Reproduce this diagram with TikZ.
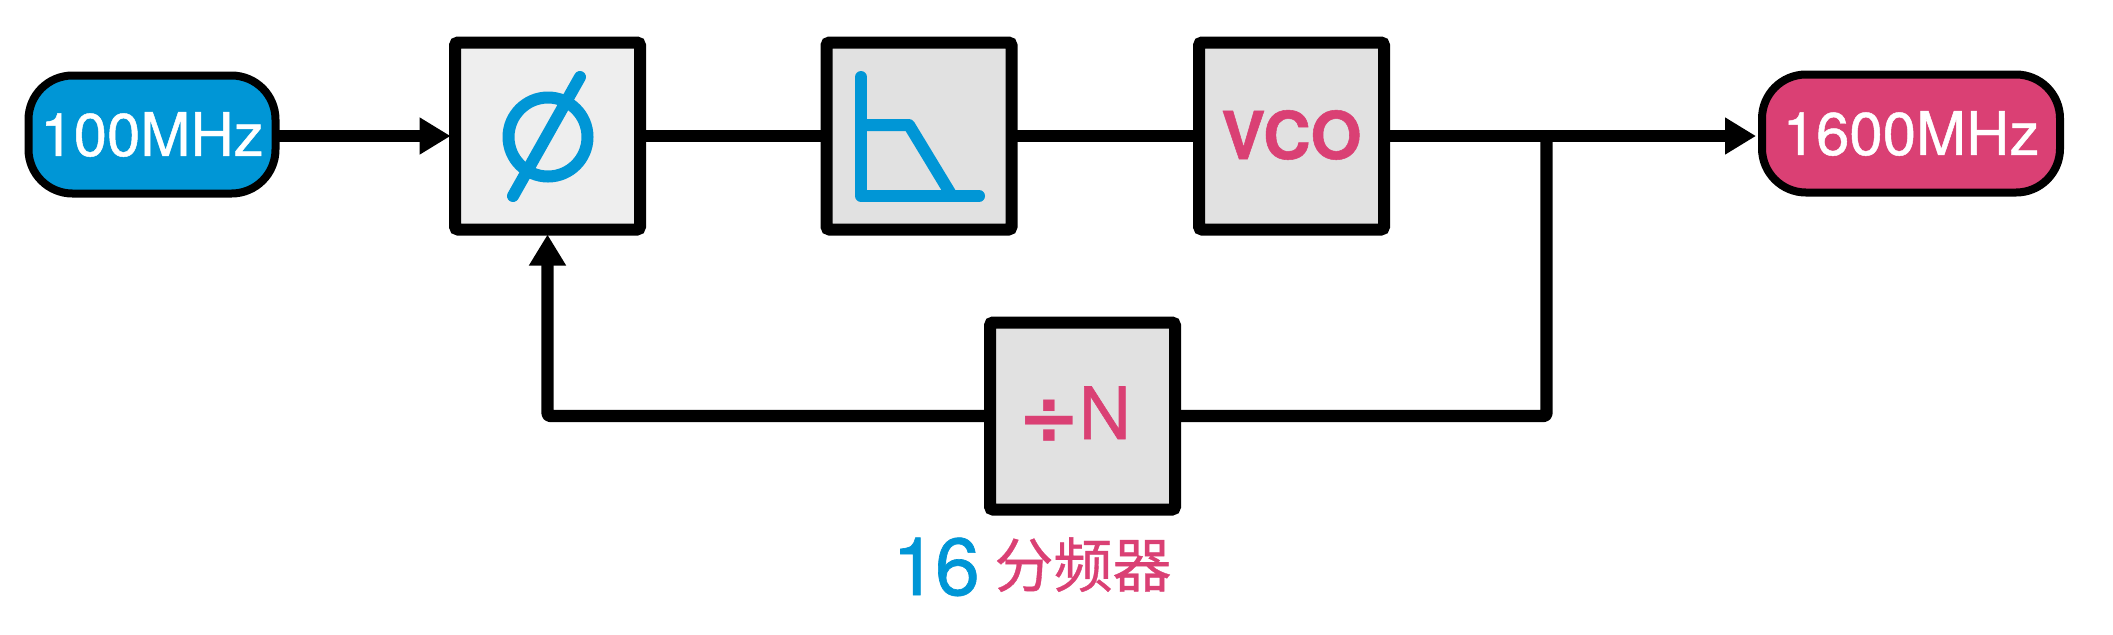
\documentclass[tikz,border=0pt]{standalone}
\usepackage{fontspec}
\setmainfont{TeX Gyre Heros}
\newfontfamily\cjkfont[FakeBold=0.6]{Noto Sans CJK SC}
\newfontfamily\heavyfont[FakeBold=0.8]{TeX Gyre Heros}
\newfontfamily\divfont{DejaVu Sans Bold}
\newfontfamily\vcofont[FakeBold=0.8]{TeX Gyre Heros Bold}
\usetikzlibrary{arrows.meta}
\definecolor{blueC}{HTML}{0096D6}
\definecolor{pinkC}{HTML}{DA4074}
\definecolor{boxA}{HTML}{EEEEEE}
\definecolor{boxB}{HTML}{E1E1E1}
\tikzset{
  blockbox/.style={draw=black,line width=6pt,rounded corners=1.5pt,minimum width=92.5pt,minimum height=93.5pt,inner sep=0pt,outer sep=0pt,fill=boxB},
  pill/.style={draw=black,line width=4pt,rounded corners=22pt,inner sep=0pt,outer sep=0pt,text=white,font=\heavyfont\fontsize{30}{30}\selectfont},
  conn/.style={line width=6.2pt,line join=round},
  arrowconn/.style={conn,-{Triangle[length=15.5pt,width=17.5pt]}},
  symb/.style={draw=blueC,line width=6pt,line cap=round,line join=round},
}
\begin{document}
\begin{tikzpicture}[x=0.5pt,y=-0.5pt]
\useasboundingbox (0,0) rectangle (2113,634);
\fill[white] (0,0) rectangle (2113,634);
% nodes
\node[pill,fill=blueC,minimum width=123.5pt,minimum height=59pt] (in) at (152,134.5) {\raisebox{-0.7pt}{100MHz}};
\node[blockbox,fill=boxA] (phi) at (547.5,136) {};
\node[blockbox] (lpf) at (919,136) {};
\node[blockbox] (vco) at (1291.5,136) {};
\node[pill,fill=pinkC,minimum width=149pt,minimum height=59pt] (out) at (1911,133.5) {\raisebox{-0.5pt}{1600MHz}};
\node[blockbox] (div) at (1082.5,416) {};
\coordinate (jn) at (1546.5,136);
% connectors
\draw[arrowconn,shorten >=2.2pt] (phi.west -| in.east) -- (phi.west);
\draw[conn] (phi.east) -- (lpf.west);
\draw[conn] (lpf.east) -- (vco.west);
\draw[arrowconn,shorten >=3pt] (vco.east) -- (vco.east -| out.west);
\draw[conn,rounded corners=1.5pt] (jn) |- (div.east);
\draw[arrowconn,rounded corners=1.5pt,shorten >=2.5pt] (div.west) -| (phi.south);
% phase symbol
\draw[symb] (548,137) circle (39.5);
\draw[symb] (580,77) -- (513,196);
% low-pass symbol
\draw[symb] (861,77) -- (861,196) -- (979,196);
\draw[symb] (861,125) -- (909,125) -- (952,196);
% labels
\node[anchor=base,inner sep=0pt,text=pinkC,font=\vcofont\fontsize{33}{33}\selectfont] (vcot) at (1291.5,159) {VCO};
\node[anchor=base,inner sep=0pt,text=pinkC,font=\fontsize{36}{36}\selectfont] (divt) at (1074,439) {\raisebox{-2.5pt}{\divfont\fontsize{38}{38}\selectfont ÷}\kern-1pt{\heavyfont N}};
\node[anchor=base,inner sep=0pt,text=blueC,font=\heavyfont\fontsize{40.5}{41}\selectfont] (sixteen) at (936,595) {1\kern-1.2pt 6};
\node[anchor=base,inner sep=0pt,text=pinkC,font=\cjkfont\fontsize{29.5}{30}\selectfont] (divider) at (1083,587) {分频器};
\end{tikzpicture}
\end{document}
